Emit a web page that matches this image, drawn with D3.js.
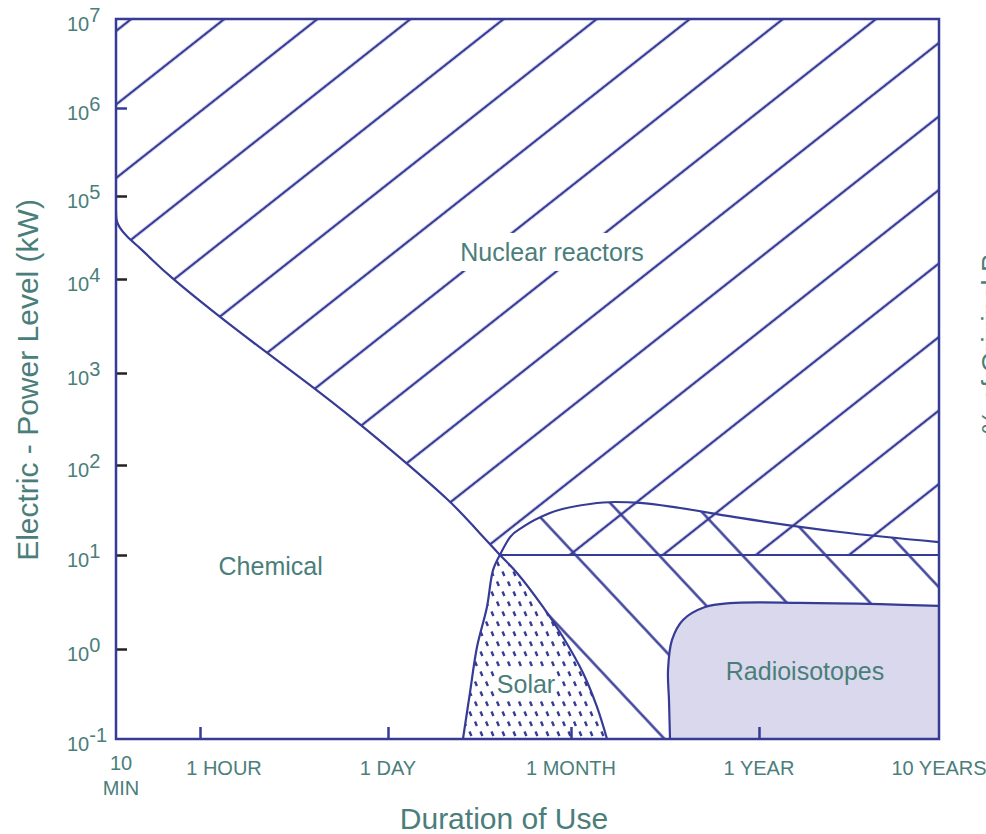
<!DOCTYPE html>
<html>
<head>
<meta charset="utf-8">
<script src="https://cdn.jsdelivr.net/npm/d3@7"></script>
<style>
  body { margin: 0; background: #fff; overflow: hidden; }
  svg { display: block; font-family: "Liberation Sans", Arial, sans-serif; }
</style>
</head>
<body>
<svg id="chart" width="986" height="834"></svg>
<script>
//-------------------
// DATA (duration in hours, electric power in kW)
//-------------------
var durationTicks = [1 / 6, 1, 24, 720, 8760, 87600];
var durationLabels = [["10", "MIN"], ["1 HOUR"], ["1 DAY"], ["1 MONTH"], ["1 YEAR"], ["10 YEARS"]];
var powerTicks = [0.1, 1, 10, 100, 1e3, 1e4, 1e5, 1e6, 1e7];
var powerExponents = ["-1", "0", "1", "2", "3", "4", "5", "6", "7"];

// lower edge of the nuclear reactor region, ends at the 10 kW corner
var nuclearEdge = [[0.1667, 6.6e4], [0.1667, 5.2e4], [0.1777, 4.2e4], [0.2063, 3.3e4], [0.278, 2.36e4], [0.345, 1.8e4],
    [0.516, 1.09e4], [1.22, 4600], [2.7, 1900], [6.3, 760], [14.5, 290], [33, 108], [79, 38], [110, 23], [192, 10]];
var nuclearFloor = 10;

// upper edge of the second (down-right hatched) reactor band
var reactorEdge = [[192, 10], [232, 15.8], [295, 20.5], [487, 29.3], [927, 36.9], [1292, 38.8],
    [1801, 38], [3066, 33.3], [6804, 25.8], [24685, 18], [87600, 13.9]];

var solarLeft = [[192, 10], [169, 6.9], [151, 2.8], [125.5, 1.05], [110, 0.324], [96.7, 0.1]];
var solarRight = [[192, 10], [264, 6.44], [428, 2.8], [620, 1.34], [845, 0.541], [1017, 0.227], [1162, 0.1]];

var radioEdge = [[2684, 0.1], [2648, 0.27], [2614, 0.58], [2756, 1.25], [3190, 2.04], [4275, 2.8],
    [5955, 3.08], [14800, 3.1], [41200, 3.0], [87600, 2.87]];

var regionNames = ["Nuclear reactors", "Chemical", "Solar", "Radioisotopes"];
var regionAt = [[506, 16500], [3.3, 6.1], [312, 0.324], [15780, 0.453]];

//-------------------
// SETUP
//-------------------
var ink = "#363b96",
    teal = "#4a7e7a",
    lavender = "#d9d8ec";

var plot = { left: 116, right: 939, top: 19, bottom: 739 };

var svg = d3.select("#chart");
var defs = svg.append("defs");

// hand drawn axes: the decades are not evenly spaced, so use piecewise scales
var x = d3.scaleLog()
    .domain(durationTicks)
    .range([116, 200, 388, 571, 759, 939]);

var y = d3.scaleLog()
    .domain(powerTicks)
    .range([739, 649, 555, 465, 373, 279, 196, 108, 19]);

var line = d3.line()
    .x(d => x(d[0]))
    .y(d => y(d[1]))
    .curve(d3.curveCatmullRom.alpha(0.5));

var smoothLine = d3.line()
    .x(d => x(d[0]))
    .y(d => y(d[1]))
    .curve(d3.curveMonotoneX);

var basisLine = d3.line()
    .x(d => x(d[0]))
    .y(d => y(d[1]))
    .curve(d3.curveBasis);

//-------------------
// PATTERNS
//-------------------
function hatch(id, spacing, angle, anchor) {
    var p = defs.append("pattern")
        .attr("id", id)
        .attr("patternUnits", "userSpaceOnUse")
        .attr("width", 20)
        .attr("height", spacing)
        .attr("patternTransform", `translate(${anchor[0]},${anchor[1]}) rotate(${angle}) translate(0,${-spacing / 2})`);
    p.append("line")
        .attr("x1", -1).attr("x2", 21)
        .attr("y1", spacing / 2).attr("y2", spacing / 2)
        .attr("stroke", ink)
        .attr("stroke-width", 2.4);
}
hatch("hatchUp", 57.7, -38.3, [309, 393.3]);
hatch("hatchDown", 60.8, 46.9, [541, 518]);

// solar: staggered rows of short slanted dashes
var dots = defs.append("pattern")
    .attr("id", "dots")
    .attr("patternUnits", "userSpaceOnUse")
    .attr("width", 11)
    .attr("height", 20);
dots.append("path")
    .attr("d", "M2,1.5L3.9,6M7.5,11.5L9.4,16")
    .attr("stroke", ink)
    .attr("stroke-width", 2.4)
    .attr("fill", "none");

defs.append("clipPath").attr("id", "plotClip")
    .append("rect")
    .attr("x", plot.left).attr("y", plot.top)
    .attr("width", plot.right - plot.left)
    .attr("height", plot.bottom - plot.top);

var g = svg.append("g").attr("clip-path", "url(#plotClip)");

//-------------------
// REGIONS
//-------------------
var corner = nuclearEdge[nuclearEdge.length - 1];

// nuclear reactors: above the curve, and above 10 kW to the right of the corner
g.append("path")
    .attr("d", basisLine(nuclearEdge) + `L${x(corner[0])},${y(1e7)}L${x(1 / 6)},${y(1e7)}Z`)
    .attr("fill", "url(#hatchUp)");

g.append("rect")
    .attr("x", x(corner[0]))
    .attr("y", y(1e7))
    .attr("width", x(87600) - x(corner[0]))
    .attr("height", y(nuclearFloor) - y(1e7))
    .attr("fill", "url(#hatchUp)");

// second band, hatched the other way
g.append("path")
    .datum(reactorEdge)
    .attr("d", d3.area()
        .x(d => x(d[0]))
        .y0(y(0.1))
        .y1(d => y(d[1]))
        .curve(d3.curveMonotoneX))
    .attr("fill", "url(#hatchDown)");

// solar
var solarPath = line(solarLeft.slice().reverse()) + line(solarRight).replace(/^M/, "L") + "Z";
g.append("path").attr("d", solarPath).attr("fill", "#fff");
g.append("path").attr("d", solarPath).attr("fill", "url(#dots)");

// radioisotopes
g.append("path")
    .attr("d", line(radioEdge) + `L${x(87600)},${y(0.1)}Z`)
    .attr("fill", lavender);

//-------------------
// BOUNDARIES
//-------------------
var edges = g.append("g")
    .attr("fill", "none")
    .attr("stroke", ink)
    .attr("stroke-width", 2.2);

edges.append("path").attr("d", basisLine(nuclearEdge));
edges.append("path").attr("d", smoothLine(reactorEdge));
[solarLeft, solarRight, radioEdge].forEach(d => {
    edges.append("path").attr("d", line(d));
});

edges.append("line")
    .attr("x1", x(corner[0]))
    .attr("x2", x(87600))
    .attr("y1", y(nuclearFloor))
    .attr("y2", y(nuclearFloor));

//-------------------
// REGION LABELS
//-------------------
var labels = svg.append("g")
    .attr("fill", teal)
    .attr("font-size", 25)
    .attr("text-anchor", "middle");

regionNames.forEach((name, i) => {
    var t = labels.append("text")
        .attr("x", x(regionAt[i][0]))
        .attr("y", y(regionAt[i][1]))
        .text(name);
    if (name === "Nuclear reactors" || name === "Solar") {
        var b = t.node().getBBox();
        var padX = name === "Solar" ? 1 : 3, padY = name === "Solar" ? 1 : 5;
        labels.insert("rect", "text")
            .attr("x", b.x - padX).attr("y", b.y - padY)
            .attr("width", b.width + 2 * padX).attr("height", b.height + 2 * padY)
            .attr("fill", "#fff");
    }
});

//-------------------
// AXES
//-------------------
svg.append("g")
    .attr("transform", `translate(${plot.left},0)`)
    .call(d3.axisRight(y).tickValues(powerTicks.slice(1, 8)).tickSize(11).tickFormat(""))
    .call(a => a.select(".domain").remove())
    .call(a => a.selectAll(".tick line")
        .attr("stroke", d => d === 1e6 ? ink : "#222")
        .attr("stroke-width", 2.5));

svg.append("g")
    .attr("transform", `translate(0,${plot.bottom})`)
    .call(d3.axisTop(x).tickValues(durationTicks.slice(1, 5)).tickSize(12).tickFormat(""))
    .call(a => a.select(".domain").remove())
    .call(a => a.selectAll(".tick line")
        .attr("stroke", ink)
        .attr("stroke-width", 2.5));

svg.append("rect")
    .attr("x", plot.left).attr("y", plot.top)
    .attr("width", plot.right - plot.left)
    .attr("height", plot.bottom - plot.top)
    .attr("fill", "none")
    .attr("stroke", ink)
    .attr("stroke-width", 2.5);

// power tick labels: 10 with exponent
svg.append("g")
    .selectAll("text")
    .data(powerTicks)
    .join("text")
    .attr("x", 67)
    .attr("y", d => y(d) + 12)
    .attr("fill", teal)
    .attr("font-size", 20)
    .each(function (d, i) {
        var t = d3.select(this);
        t.append("tspan").text("10");
        t.append("tspan").attr("dy", -9).text(powerExponents[i]);
    });

// duration tick labels
var nudge = { "10": 5, "1 HOUR": 24 };
svg.append("g")
    .selectAll("text")
    .data(durationTicks)
    .join("text")
    .attr("text-anchor", "middle")
    .attr("fill", teal)
    .attr("font-size", 20)
    .each(function (d, i) {
        var rows = durationLabels[i];
        var cx = x(d) + (nudge[rows[0]] || 0);
        var t = d3.select(this).attr("y", 775 - (rows.length - 1) * 5);
        rows.forEach((r, k) => {
            t.append("tspan").attr("x", cx).attr("dy", k ? 25 : 0).text(r);
        });
    });

// axis titles
svg.append("text")
    .attr("x", 504).attr("y", 829)
    .attr("text-anchor", "middle")
    .attr("fill", teal)
    .attr("font-size", 30)
    .text("Duration of Use");

svg.append("text")
    .attr("transform", "translate(38,380) rotate(-90)")
    .attr("text-anchor", "middle")
    .attr("fill", teal)
    .attr("font-size", 30)
    .text("Electric - Power Level (kW)");

// title of the neighbouring chart, cut off by the page edge as in the source
svg.append("text")
    .attr("transform", "translate(1001,434) rotate(-90)")
    .attr("fill", teal)
    .attr("font-size", 27)
    .text("% of Original P");
</script>
</body>
</html>
